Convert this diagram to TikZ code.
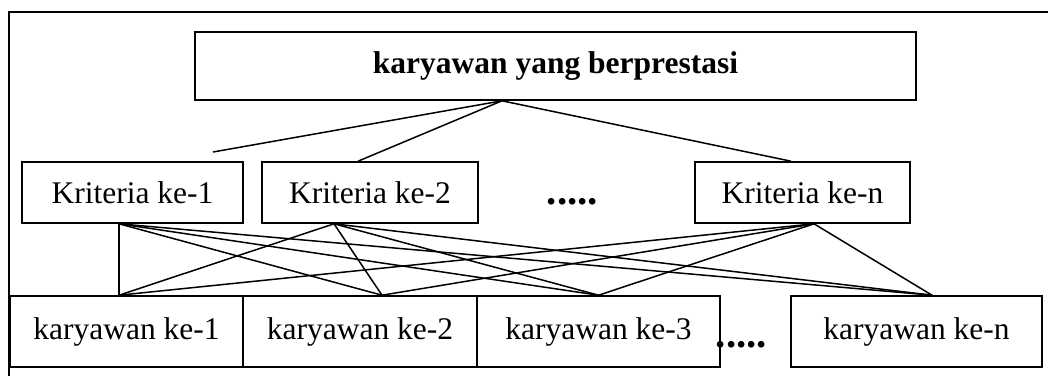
\documentclass[tikz,border=0pt]{standalone}
\usepackage{fontspec}
\setmainfont{Liberation Serif}
\usetikzlibrary{calc}
\begin{document}
\begin{tikzpicture}[x=1pt,y=-1pt,line width=1.6pt,
  box/.style={draw,rectangle,inner sep=0pt,font=\fontsize{31.5}{36}\selectfont},
  conn/.style={line width=1.5pt},
  dots/.style={inner sep=0pt,font=\fontsize{41}{41}\selectfont\bfseries}]
\useasboundingbox (0,0) rectangle (1048,376);
% outer frame (top and left sides visible)
\draw (1048,12) -- (9,12) -- (9,376);
% top
\node[box,minimum width=721pt,minimum height=68pt,font=\fontsize{31.5}{36}\selectfont\bfseries] (top) at (555.5,66) {karyawan yang berprestasi};
% criteria
\node[box,minimum width=221pt,minimum height=61pt] (k1) at (132.5,192.5) {Kriteria ke-1};
\node[box,minimum width=216pt,minimum height=61pt] (k2) at (370,192.5) {Kriteria ke-2};
\node[box,minimum width=215pt,minimum height=61pt] (kn) at (802.5,192.5) {Kriteria ke-n};
\node[dots,anchor=base west] (d1) at (546,204.5) {.....};
% employees
\node[box,minimum width=233pt,minimum height=71pt] (b1) at (126.5,331.5) {karyawan ke-1};
\node[box,minimum width=234pt,minimum height=71pt] (b2) at (360,331.5) {karyawan ke-2};
\node[box,minimum width=243pt,minimum height=71pt] (b3) at (598.5,331.5) {karyawan ke-3};
\node[box,minimum width=251pt,minimum height=71pt] (bn) at (916.5,331.5) {karyawan ke-n};
\node[dots,anchor=base west] (d2) at (715,347.5) {.....};
% anchor points
\coordinate (ts) at ([xshift=-53.5pt]top.south);
\coordinate (k1free) at (213,152);
\coordinate (k2t) at ([xshift=-12pt]k2.north);
\coordinate (knt) at ([xshift=-11.5pt]kn.north);
\coordinate (k1b) at ([xshift=-13.5pt]k1.south);
\coordinate (k2b) at ([xshift=-36pt]k2.south);
\coordinate (knb) at ([xshift=11.5pt]kn.south);
\coordinate (b1t) at ([xshift=-7.5pt]b1.north);
\coordinate (b2t) at ([xshift=22pt]b2.north);
\coordinate (b3t) at (b3.north);
\coordinate (bnt) at ([xshift=15.5pt]bn.north);
% connectors top -> criteria
\draw[conn] (ts) -- (k1free);
\draw[conn] (ts) -- (k2t);
\draw[conn] (ts) -- (knt);
% connectors criteria -> employees
\foreach \k in {k1b,k2b,knb}{
  \foreach \b in {b1t,b2t,b3t,bnt}{
    \draw[conn] (\k) -- (\b);
  }
}
\end{tikzpicture}
\end{document}
